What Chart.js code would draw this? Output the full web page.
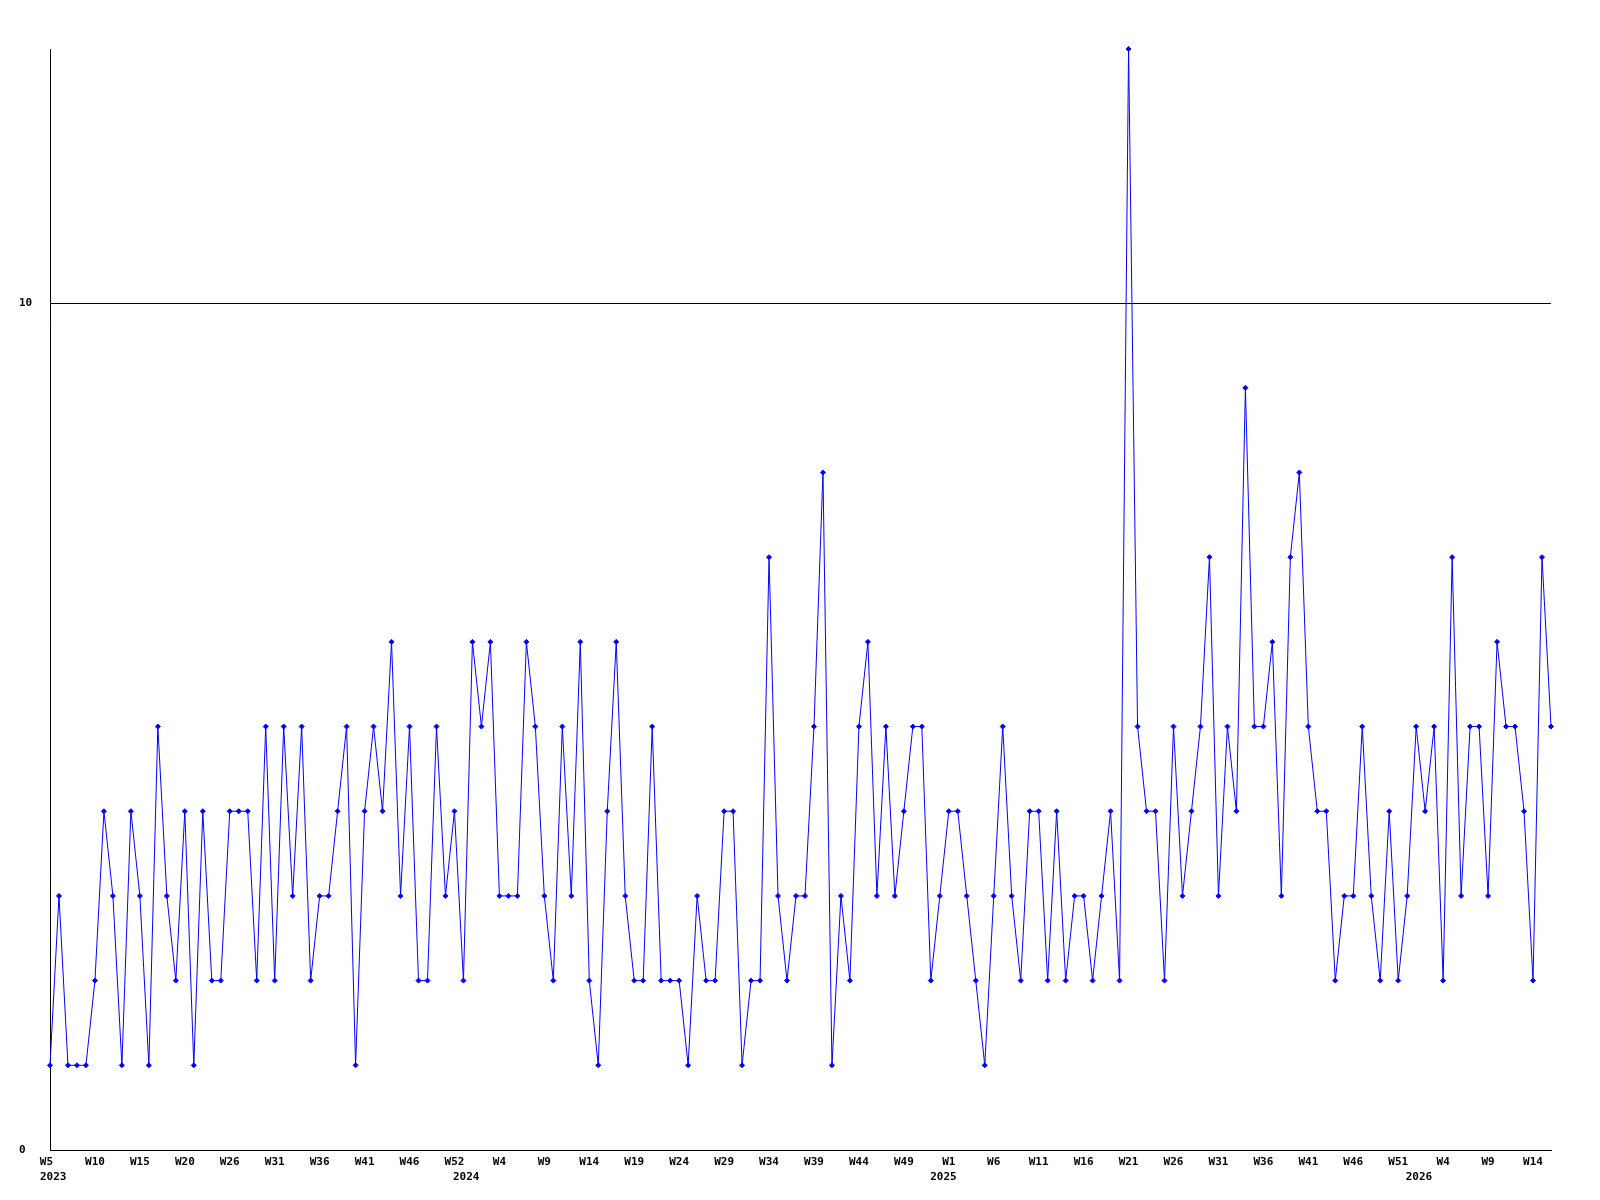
<!DOCTYPE html>
<html lang="de">
<head>
<meta charset="utf-8">
<title>Wöchentliche Werte</title>
<script src="https://cdn.jsdelivr.net/npm/chart.js@4/dist/chart.umd.min.js"></script>
<style>
  html, body { margin: 0; padding: 0; background: #ffffff; }
  #chart { display: block; }
</style>
</head>
<body>
<canvas id="chart" width="1600" height="1200"></canvas>
<script>
// Wochenwerte ab 2023 W5 (ein Wert pro Woche)
const weeklyValues = [
    1, 3, 1, 1, 1, 2, 4, 3, 1, 4, 3, 1, 5, 3, 2, 4, 1, 4, 2, 2,
    4, 4, 4, 2, 5, 2, 5, 3, 5, 2, 3, 3, 4, 5, 1, 4, 5, 4, 6, 3,
    5, 2, 2, 5, 3, 4, 2, 6, 5, 6, 3, 3, 3, 6, 5, 3, 2, 5, 3, 6,
    2, 1, 4, 6, 3, 2, 2, 5, 2, 2, 2, 1, 3, 2, 2, 4, 4, 1, 2, 2,
    7, 3, 2, 3, 3, 5, 8, 1, 3, 2, 5, 6, 3, 5, 3, 4, 5, 5, 2, 3,
    4, 4, 3, 2, 1, 3, 5, 3, 2, 4, 4, 2, 4, 2, 3, 3, 2, 3, 4, 2,
    13, 5, 4, 4, 2, 5, 3, 4, 5, 7, 3, 5, 4, 9, 5, 5, 6, 3, 7, 8,
    5, 4, 4, 2, 3, 3, 5, 3, 2, 4, 2, 3, 5, 4, 5, 2, 7, 3, 5, 5,
    3, 6, 5, 5, 4, 2, 7, 5
];

// Beschriftung der X-Achse (alle 5 Wochen)
const weekTickLabels = [
    'W5', 'W10', 'W15', 'W20', 'W26', 'W31', 'W36', 'W41', 'W46', 'W52',
    'W4', 'W9', 'W14', 'W19', 'W24', 'W29', 'W34', 'W39', 'W44', 'W49',
    'W1', 'W6', 'W11', 'W16', 'W21', 'W26', 'W31', 'W36', 'W41', 'W46', 'W51',
    'W4', 'W9', 'W14'
];

// Jahreszahlen unter den Wochen (Position in Wochen-Index)
const yearTickLabels = ['2023', '2024', '2025', '2026'];
const yearTickPositions = [0.35, 46.3, 99.4, 152.3];

// Y-Achse
const yTickValues = [0, 10];
const yMax = 13;

const axisFont = {
    family: '"DejaVu Sans Mono", "Liberation Mono", monospace',
    size: 11,
    weight: 'bold'
};

const createWeeklyChart = () => {
    const ctx = document.getElementById('chart').getContext('2d');
    const lastIndex = weeklyValues.length - 1;

    return new Chart(ctx, {
        type: 'line',
        data: {
            datasets: [{
                data: weeklyValues.map((v, i) => ({ x: i, y: v })),
                borderColor: '#0000ff',
                backgroundColor: '#0000ff',
                borderWidth: 1,
                tension: 0,
                fill: false,
                pointStyle: 'rectRot',
                pointRadius: 2.5,
                pointBorderWidth: 1,
                pointBackgroundColor: '#0000ff',
                pointBorderColor: '#0000ff',
                clip: false
            }]
        },
        options: {
            responsive: false,
            animation: false,
            devicePixelRatio: 1,
            layout: {
                padding: { top: 49, right: 49, bottom: 0, left: 19 }
            },
            plugins: {
                legend: { display: false },
                tooltip: { enabled: false }
            },
            scales: {
                x: {
                    type: 'linear',
                    position: 'bottom',
                    weight: 0,
                    min: 0,
                    max: lastIndex,
                    // erste Beschriftung sitzt etwas links vom ersten Punkt
                    afterBuildTicks: (scale) => {
                        scale.ticks = weekTickLabels.map((_, k) => ({ value: k === 0 ? -0.4 : k * 5 }));
                    },
                    afterFit: (scale) => { scale.height = 20; },
                    grid: { display: false, drawTicks: false },
                    border: { display: true, color: '#000000', width: 1 },
                    ticks: {
                        autoSkip: false,
                        maxRotation: 0,
                        minRotation: 0,
                        padding: 6,
                        color: '#000000',
                        font: axisFont,
                        callback: (value, index) => weekTickLabels[index]
                    }
                },
                years: {
                    type: 'linear',
                    position: 'bottom',
                    weight: 1,
                    min: 0,
                    max: lastIndex,
                    afterBuildTicks: (scale) => {
                        scale.ticks = yearTickPositions.map(p => ({ value: p }));
                    },
                    afterFit: (scale) => { scale.height = 30; },
                    grid: { display: false, drawTicks: false },
                    border: { display: false },
                    ticks: {
                        autoSkip: false,
                        maxRotation: 0,
                        minRotation: 0,
                        padding: 1,
                        color: '#000000',
                        font: axisFont,
                        callback: (value, index) => yearTickLabels[index]
                    }
                },
                y: {
                    type: 'linear',
                    position: 'left',
                    min: 0,
                    max: yMax,
                    afterBuildTicks: (scale) => {
                        scale.ticks = yTickValues.map(v => ({ value: v }));
                    },
                    afterFit: (scale) => { scale.width = 31; },
                    grid: {
                        color: '#000000',
                        lineWidth: 1,
                        drawTicks: false
                    },
                    border: { display: true, color: '#000000', width: 1 },
                    ticks: {
                        crossAlign: 'far',
                        padding: 0,
                        color: '#000000',
                        font: axisFont,
                        callback: (value) => String(value)
                    }
                }
            }
        }
    });
};

createWeeklyChart();
</script>
</body>
</html>
